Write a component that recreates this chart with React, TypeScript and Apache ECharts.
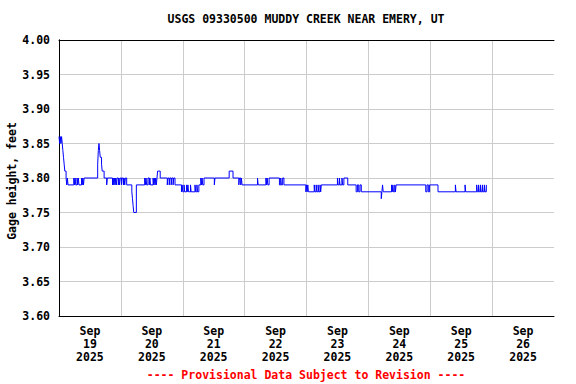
import React, { useEffect, useRef } from "react";
import * as echarts from "echarts";

const TITLE = "USGS 09330500 MUDDY CREEK NEAR EMERY, UT";
const FOOTER = "---- Provisional Data Subject to Revision ----";
const Y_NAME = "Gage height, feet";
const MONTH = "Sep";
const YEAR = "2025";
const DAYS = ["19", "20", "21", "22", "23", "24", "25", "26"];

// hours since Sep 19 00:00 (step change points) and gage height, feet
const HOURS = [
  0, 0.25, 0.5, 0.75, 1.0, 1.25, 1.5, 1.75, 2.0, 2.25, 2.75, 3.0, 3.25, 3.5,
  5.75, 6.0, 6.25, 6.5, 7.0, 7.25, 7.5, 7.75, 8.75, 9.0, 9.25, 9.5, 9.75,
  15.0, 15.25, 15.5, 15.75, 16.0, 16.5, 16.75, 17.5, 18.5, 18.75,
  20.75, 21.0, 21.25, 21.5, 21.75, 22.0, 22.25, 22.5, 23.0, 23.25, 23.5, 23.75,
  24.25, 24.5, 25.0, 25.25, 25.5, 25.75, 26.25, 28.25, 28.5, 28.75, 29.0, 30.0,
  33.25, 33.5, 33.75, 34.0, 34.5, 35.0, 35.25, 35.5, 36.5, 36.75, 37.0, 37.25,
  37.5, 37.75, 38.0, 38.25, 39.25,
  42.0, 42.25, 42.75, 43.0, 43.5, 43.75, 44.25, 44.5, 45.0,
  47.5, 47.75, 48.0, 48.5, 48.75, 49.5, 49.75, 50.0, 50.25, 51.0, 51.25,
  52.75, 53.0, 53.5, 53.75, 54.25, 55.0, 55.25, 55.5, 55.75, 56.25,
  60.25, 60.5, 66.0, 67.5, 69.75, 70.0, 70.5, 70.75, 71.0,
  77.0, 77.25, 80.25, 80.5, 80.75, 81.0, 81.5, 85.5, 86.0, 86.25, 86.75, 87.25,
  95.75, 96.0, 96.25, 96.5, 96.75, 99.0, 99.25, 99.75, 100.0, 100.5, 100.75,
  101.25, 101.5, 101.75,
  108.0, 108.25, 108.75, 109.0, 109.75, 110.0, 110.5, 112.0,
  115.25, 115.75, 116.25, 116.75, 117.25,
  125.0, 125.25, 125.5, 125.75, 129.0, 129.25, 129.5, 129.75, 130.25, 130.5, 130.75,
  142.25, 142.75, 143.25, 143.75, 147.0,
  153.75, 154.0, 157.5, 157.75,
  162.0, 162.25, 162.75, 163.0, 163.5, 163.75, 164.25, 164.5, 165.0, 165.25, 165.75,
];
const GAGE = [
  3.86, 3.85, 3.86, 3.85, 3.86, 3.85, 3.84, 3.83, 3.82, 3.81, 3.80, 3.79, 3.80, 3.79,
  3.80, 3.79, 3.80, 3.79, 3.80, 3.79, 3.80, 3.79, 3.80, 3.79, 3.80, 3.79, 3.80,
  3.82, 3.84, 3.85, 3.84, 3.83, 3.82, 3.81, 3.80, 3.79, 3.80,
  3.79, 3.80, 3.79, 3.80, 3.79, 3.80, 3.79, 3.80, 3.79, 3.80, 3.79, 3.80,
  3.79, 3.80, 3.79, 3.80, 3.79, 3.80, 3.79, 3.78, 3.77, 3.76, 3.75, 3.79,
  3.80, 3.79, 3.80, 3.79, 3.80, 3.79, 3.80, 3.79, 3.80, 3.79, 3.80, 3.79,
  3.80, 3.79, 3.80, 3.81, 3.80,
  3.79, 3.80, 3.79, 3.80, 3.79, 3.80, 3.79, 3.80, 3.79,
  3.78, 3.79, 3.78, 3.79, 3.78, 3.79, 3.78, 3.79, 3.78, 3.79, 3.78,
  3.79, 3.78, 3.79, 3.78, 3.79, 3.80, 3.79, 3.80, 3.79, 3.80,
  3.79, 3.80, 3.81, 3.80, 3.79, 3.80, 3.79, 3.80, 3.79,
  3.80, 3.79, 3.80, 3.79, 3.80, 3.79, 3.80, 3.79, 3.80, 3.79, 3.80, 3.79,
  3.78, 3.79, 3.78, 3.79, 3.78, 3.79, 3.78, 3.79, 3.78, 3.79, 3.78,
  3.79, 3.78, 3.79,
  3.80, 3.79, 3.80, 3.79, 3.80, 3.79, 3.80, 3.79,
  3.78, 3.79, 3.78, 3.79, 3.78,
  3.77, 3.78, 3.79, 3.78, 3.79, 3.78, 3.79, 3.78, 3.79, 3.78, 3.79,
  3.78, 3.79, 3.78, 3.79, 3.78,
  3.79, 3.78, 3.79, 3.78,
  3.79, 3.78, 3.79, 3.78, 3.79, 3.78, 3.79, 3.78, 3.79, 3.78, 3.79,
];

const FONT = "'DejaVu Sans Mono', monospace";

export default function App() {
  const ref = useRef<HTMLDivElement>(null);
  useEffect(() => {
    document.body.style.margin = "0";
    const chart = echarts.init(ref.current!, null, { renderer: "svg" });
    const data = HOURS.map((h, i) => [h, GAGE[i]]);
    const labelStyle = {
      color: "#000",
      fontFamily: FONT,
      fontWeight: "bold" as const,
      fontSize: 11.5,
    };
    chart.setOption({
      animation: false,
      backgroundColor: "#fff",
      grid: {
        left: 59,
        right: 22,
        top: 40,
        bottom: 68,
        containLabel: false,
        outerBoundsMode: "none",
      },
      xAxis: [
        {
          type: "value",
          min: 0,
          max: 192,
          interval: 12,
          position: "bottom",
          axisLine: { show: true, lineStyle: { color: "#000", width: 1 } },
          axisTick: { show: false },
          splitLine: { show: false },
          axisLabel: {
            ...labelStyle,
            lineHeight: 13,
            margin: 8,
            showMinLabel: true,
            showMaxLabel: true,
            formatter: (v: number) =>
              v % 24 === 12 ? `${MONTH}\n${DAYS[(v - 12) / 24]}\n${YEAR}` : "",
          },
        },
        {
          type: "value",
          min: 0,
          max: 192,
          interval: 24,
          position: "top",
          axisLine: { show: true, lineStyle: { color: "#000", width: 1 } },
          axisTick: { show: false },
          axisLabel: { show: false },
          splitLine: {
            show: true,
            showMinLine: false,
            showMaxLine: false,
            lineStyle: { color: "#cccccc", width: 1 },
          },
        },
      ],
      yAxis: [
        {
          type: "value",
          min: 3.6,
          max: 4.0,
          interval: 0.05,
          position: "left",
          axisLine: { show: true, lineStyle: { color: "#000", width: 1 } },
          axisTick: { show: false },
          axisLabel: {
            ...labelStyle,
            margin: 9,
            formatter: (v: number) => v.toFixed(2),
          },
          splitLine: {
            show: true,
            showMinLine: false,
            showMaxLine: false,
            lineStyle: { color: "#cccccc", width: 1 },
          },
        },
        {
          type: "value",
          min: 3.6,
          max: 4.0,
          interval: 0.05,
          position: "right",
          axisLine: { show: true, lineStyle: { color: "#000", width: 1 } },
          axisTick: { show: false },
          axisLabel: { show: false },
          splitLine: { show: false },
        },
      ],
      series: [
        {
          type: "line",
          xAxisIndex: 0,
          yAxisIndex: 0,
          step: "end",
          showSymbol: false,
          data,
          lineStyle: { color: "#0000ff", width: 1 },
          itemStyle: { color: "#0000ff" },
          z: 5,
        },
      ],
      graphic: [
        {
          type: "text",
          x: 306,
          y: 19,
          style: {
            text: TITLE,
            fill: "#000",
            font: `bold 11.5px ${FONT}`,
            textAlign: "center",
            textVerticalAlign: "middle",
          },
        },
        {
          type: "text",
          x: 12,
          y: 181,
          rotation: Math.PI / 2,
          style: {
            text: Y_NAME,
            fill: "#000",
            font: `bold 11.5px ${FONT}`,
            textAlign: "center",
            textVerticalAlign: "middle",
          },
        },
        {
          type: "text",
          x: 306,
          y: 375,
          style: {
            text: FOOTER,
            fill: "#ff0000",
            font: `bold 11.5px ${FONT}`,
            textAlign: "center",
            textVerticalAlign: "middle",
          },
        },
      ],
    });
    return () => chart.dispose();
  }, []);
  return <div ref={ref} style={{ width: 576, height: 384 }} />;
}
